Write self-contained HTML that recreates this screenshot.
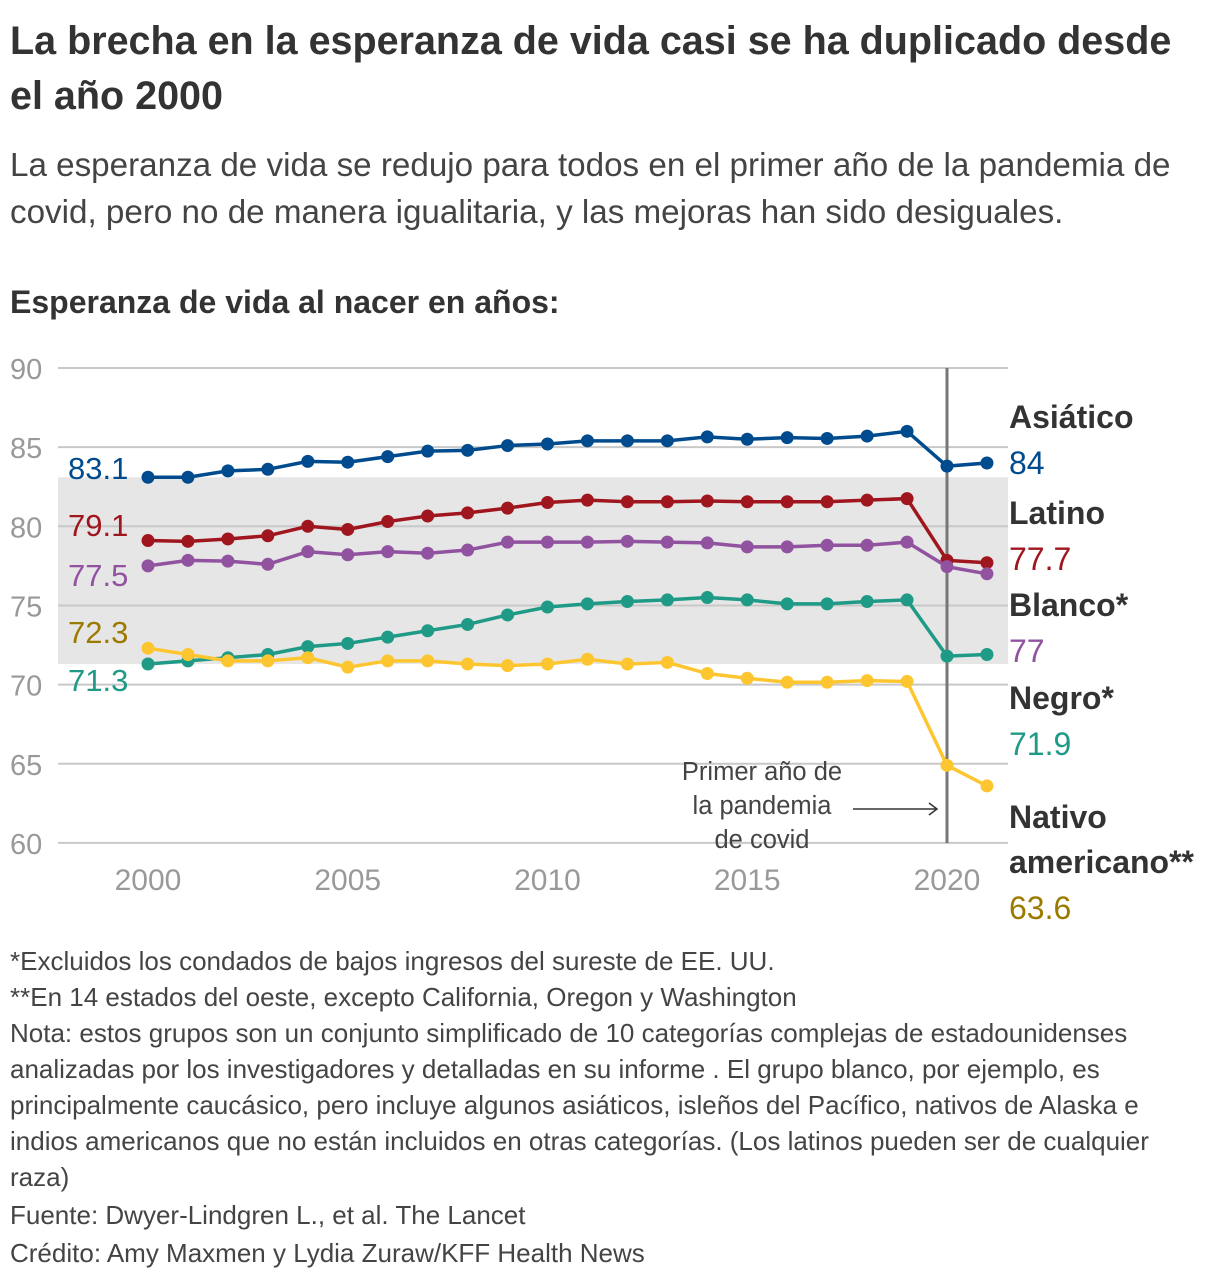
<!DOCTYPE html>
<html><head><meta charset="utf-8">
<style>
body{margin:0;background:#fff;font-family:"Liberation Sans",sans-serif;color:#333;}
#wrap{position:relative;width:1220px;height:1284px;overflow:hidden;}
.t{position:absolute;left:10px;white-space:nowrap;}
</style></head><body>
<div id="wrap">
<div class="t" style="top:14px;font-size:39.5px;font-weight:bold;line-height:55px;color:#333;">La brecha en la esperanza de vida casi se ha duplicado desde<br>el año 2000</div>
<div class="t" style="top:142px;font-size:33.2px;line-height:47px;color:#444;">La esperanza de vida se redujo para todos en el primer año de la pandemia de<br>covid, pero no de manera igualitaria, y las mejoras han sido desiguales.</div>
<div class="t" style="top:284px;font-size:32px;font-weight:bold;color:#333;">Esperanza de vida al nacer en años:</div>
<svg id="chart" width="1220" height="940" style="position:absolute;left:0;top:0;"></svg>
<div class="t" style="top:943px;font-size:26px;line-height:36px;color:#444;">*Excluidos los condados de bajos ingresos del sureste de EE. UU.<br>**En 14 estados del oeste, excepto California, Oregon y Washington<br>Nota: estos grupos son un conjunto simplificado de 10 categorías complejas de estadounidenses<br>analizadas por los investigadores y detalladas en su informe . El grupo blanco, por ejemplo, es<br>principalmente caucásico, pero incluye algunos asiáticos, isleños del Pacífico, nativos de Alaska e<br>indios americanos que no están incluidos en otras categorías. (Los latinos pueden ser de cualquier<br>raza)<br><span style="line-height:40px">Fuente: Dwyer-Lindgren L., et al. The Lancet</span><br>Crédito: Amy Maxmen y Lydia Zuraw/KFF Health News</div>
</div>
<script>
const years=[2000,2001,2002,2003,2004,2005,2006,2007,2008,2009,2010,2011,2012,2013,2014,2015,2016,2017,2018,2019,2020,2021];
const asian=[83.1,83.1,83.5,83.6,84.1,84.05,84.4,84.75,84.8,85.1,85.2,85.4,85.4,85.4,85.65,85.5,85.6,85.55,85.7,86.0,83.8,84.0];
const latino=[79.1,79.05,79.2,79.4,80.0,79.8,80.3,80.65,80.85,81.15,81.5,81.65,81.55,81.55,81.6,81.55,81.55,81.55,81.65,81.75,77.85,77.7];
const white=[77.5,77.85,77.8,77.6,78.4,78.2,78.4,78.3,78.5,79.0,79.0,79.0,79.05,79.0,78.95,78.7,78.7,78.8,78.8,79.0,77.45,77.0];
const black=[71.3,71.5,71.7,71.9,72.4,72.6,73.0,73.4,73.8,74.4,74.9,75.1,75.25,75.35,75.5,75.35,75.1,75.1,75.25,75.35,71.8,71.9];
const native=[72.3,71.9,71.5,71.5,71.7,71.1,71.5,71.5,71.3,71.2,71.3,71.6,71.3,71.4,70.7,70.4,70.15,70.15,70.25,70.2,64.9,63.6];
const yTicks=[60,65,70,75,80,85,90];
const xTicks=[2000,2005,2010,2015,2020];
const seriesNames=["Asiático","Latino","Blanco*","Negro*","Nativo americano**"];
const NS="http://www.w3.org/2000/svg";
const svg=document.getElementById('chart');
const X=y=>148+(y-2000)*39.95;
const Y=v=>368+(90-v)*15.83;
function mk(tag,attrs,parent){const e=document.createElementNS(NS,tag);for(const k in attrs)e.setAttribute(k,attrs[k]);(parent||svg).appendChild(e);return e;}
const allStart=[asian[0],latino[0],white[0],black[0],native[0]];
const band=mk('rect',{x:58,y:Y(Math.max(...allStart)),width:950,height:Y(Math.min(...allStart))-Y(Math.max(...allStart)),fill:'#e6e6e6'});


yTicks.forEach(t=>{
 const l=mk('line',{x1:58,x2:1008,y1:Y(t),y2:Y(t),stroke:'#c8c8c8','stroke-width':2});
 
 
 const tx=mk('text',{x:10,y:Y(t)+11,'font-size':29,fill:'#999','font-family':'Liberation Sans'});
 tx.textContent=t;
 
 
});
xTicks.forEach(t=>{
 const tx=mk('text',{x:X(t),y:890,'font-size':30,fill:'#999','text-anchor':'middle','font-family':'Liberation Sans'});
 tx.textContent=t;
 
 
});
const vl=mk('line',{x1:X(2020),x2:X(2020),y1:368,y2:843,stroke:'#777','stroke-width':3});


const ann=[["Primer año de",771],["la pandemia",805],["de covid",839]];
ann.forEach(a=>{const t=mk('text',{x:762,y:a[1]+9,'font-size':25.5,fill:'#444','text-anchor':'middle','font-family':'Liberation Sans'});t.textContent=a[0];
 
 });
const ar=mk('path',{d:'M853 809 H937 M929 803 L937 809 L929 815',stroke:'#333','stroke-width':1.5,fill:'none'});


const series=[
 {d:asian,c:'#004b8d',n:'asian',lab:'83.1',ly:468,val:'84',ry:416},
 {d:latino,c:'#a0161f',n:'latino',lab:'79.1',ly:525,val:'77.7',ry:512},
 {d:white,c:'#9152a0',n:'white',lab:'77.5',ly:575,val:'77',ry:604},
 {d:black,c:'#1e9a86',n:'black',lab:'71.3',ly:680,val:'71.9',ry:697},
 {d:native,c:'#fdc630',n:'native',lab:'72.3',ly:632,val:'63.6',ry:816,lc:'#9c7a00'}
];
series.forEach((s,i)=>{
 const g=mk('g',{});
 
 
 const p=mk('polyline',{points:s.d.map((v,j)=>X(years[j])+','+Y(v)).join(' '),fill:'none',stroke:s.c,'stroke-width':3.5},g);
 
 
 s.d.forEach((v,j)=>{const c=mk('circle',{cx:X(years[j]),cy:Y(v),r:6.5,fill:s.c},g);
  
  });
 const lt=mk('text',{x:68,y:s.ly+11,'font-size':31,fill:s.lc||s.c,'font-family':'Liberation Sans'});
 lt.textContent=s.lab;
 
 
 const names=seriesNames[i].split(' ');
 names.forEach((nm,k)=>{const t=mk('text',{x:1009,y:s.ry+12+k*45,'font-size':32,'font-weight':'bold',fill:'#333','font-family':'Liberation Sans'});t.textContent=nm;
  
  });
 const vt=mk('text',{x:1009,y:s.ry+46+12+(names.length-1)*45,'font-size':32,fill:s.lc||s.c,'font-family':'Liberation Sans'});
 vt.textContent=s.val;
 
 
});
</script>
</body></html>
